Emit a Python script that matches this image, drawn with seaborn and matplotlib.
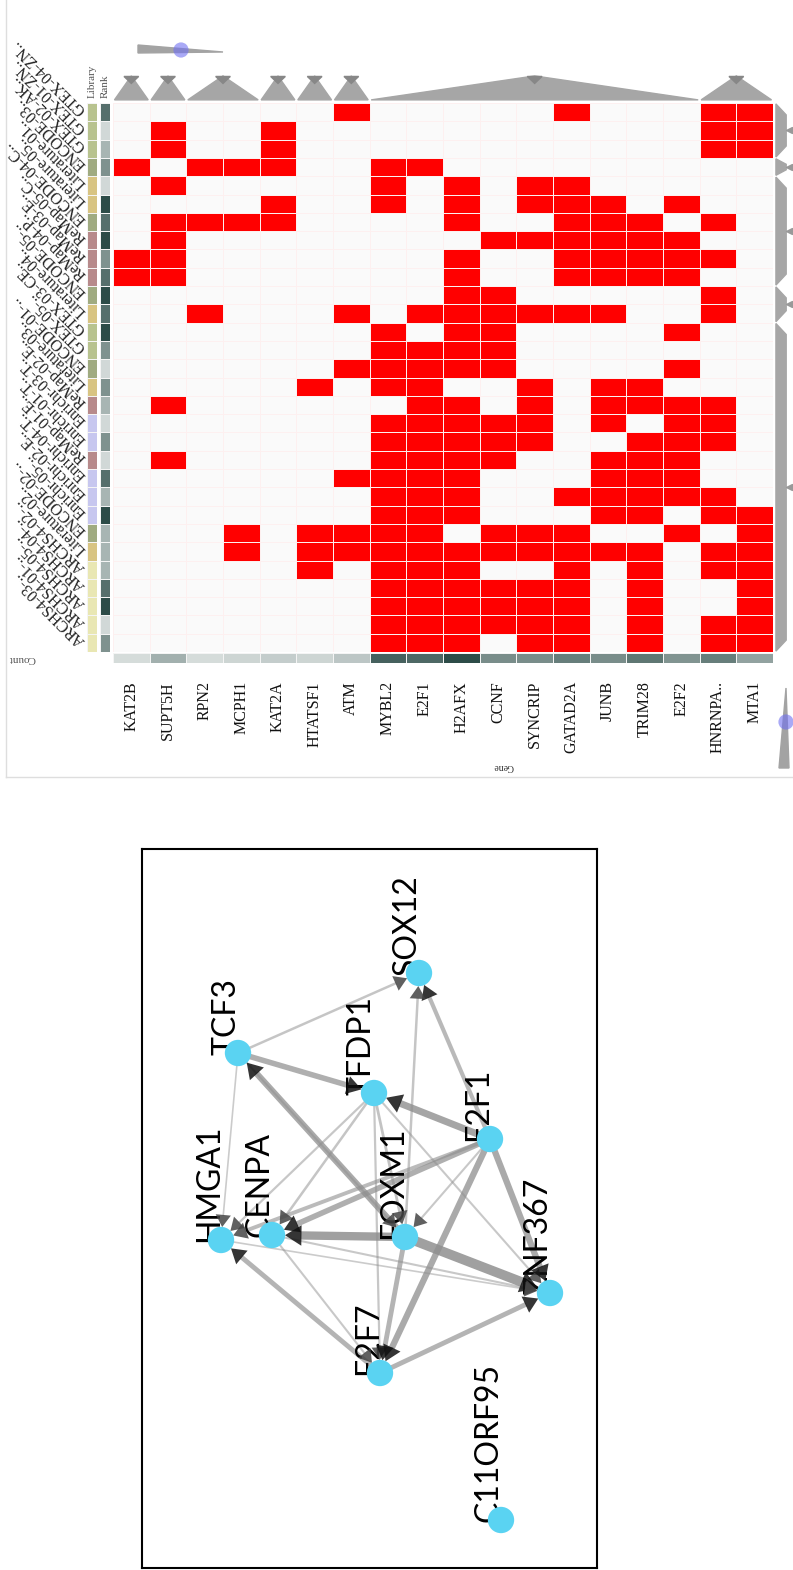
import numpy as np
import pandas as pd
import seaborn as sns
import matplotlib.pyplot as plt
from matplotlib.colors import ListedColormap, LinearSegmentedColormap
from matplotlib.patches import Polygon

W, H = 793, 1570

# ---------------- heatmap data ----------------
genes = ["KAT2B", "SUPT5H", "RPN2", "MCPH1", "KAT2A", "HTATSF1", "ATM", "MYBL2",
         "E2F1", "H2AFX", "CCNF", "SYNCRIP", "GATAD2A", "JUNB", "TRIM28", "E2F2",
         "HNRNPA..", "MTA1"]

libraries = ["GTEX-04-ZN..", "GTEX-01-ZN..", "GTEX-02-AK..", "ENCODE-03..",
             "Literature-01..", "Literature-05..", "ENCODE-04-C..", "ReMap-05-C..",
             "ReMap-03-E..", "ReMap-04-P..", "ENCODE-05-..", "Literature-04..",
             "GTEX-03-CE..", "GTEX-05-..", "ENCODE-01-..", "Literature-03..",
             "ReMap-02-E..", "Enrichr-03-T..", "Enrichr-01-T..", "ReMap-01-E..",
             "Enrichr-04-T..", "Enrichr-02-E..", "Enrichr-05-..", "ENCODE-02-..",
             "Literature-02..", "ARCHS4-02-..", "ARCHS4-04-..", "ARCHS4-05-..",
             "ARCHS4-01-..", "ARCHS4-03-.."]

library_type = ["GTEX", "GTEX", "GTEX", "ENCODE", "Literature", "Literature", "ENCODE",
                "ReMap", "ReMap", "ReMap", "ENCODE", "Literature", "GTEX", "GTEX",
                "ENCODE", "Literature", "ReMap", "Enrichr", "Enrichr", "ReMap",
                "Enrichr", "Enrichr", "Enrichr", "ENCODE", "Literature", "ARCHS4",
                "ARCHS4", "ARCHS4", "ARCHS4", "ARCHS4"]

rank_level = [4, 1, 2, 3, 1, 5, 4, 5, 3, 4, 5, 4, 5, 3, 1, 3, 2, 1, 3, 1,
              4, 2, 5, 2, 2, 2, 4, 5, 1, 3]

# columns (gene index) that are hit in each library row
hit_cols = [
    [6, 12, 16, 17],
    [1, 4, 16, 17],
    [1, 4, 16, 17],
    [0, 2, 3, 4, 7, 8],
    [1, 7, 9, 11, 12],
    [4, 7, 9, 11, 12, 13, 15],
    [1, 2, 3, 4, 9, 12, 13, 14, 16],
    [1, 10, 11, 12, 13, 14, 15],
    [0, 1, 9, 12, 13, 14, 15, 16],
    [0, 1, 9, 12, 13, 14, 15],
    [9, 10, 16],
    [2, 6, 8, 9, 10, 11, 12, 13, 16],
    [7, 9, 10, 15],
    [7, 8, 9, 10],
    [6, 7, 8, 9, 10, 15],
    [5, 7, 8, 11, 13, 14],
    [1, 8, 9, 11, 13, 14, 15, 16],
    [7, 8, 9, 10, 11, 13, 15, 16],
    [7, 8, 9, 10, 11, 14, 15, 16],
    [1, 7, 8, 9, 10, 13, 14, 15],
    [6, 7, 8, 9, 13, 14, 15],
    [7, 8, 9, 12, 13, 14, 15, 16],
    [7, 8, 9, 13, 14, 16, 17],
    [3, 5, 6, 7, 8, 10, 11, 12, 15, 17],
    [3, 5, 6, 7, 8, 9, 10, 11, 12, 13, 14, 16, 17],
    [5, 7, 8, 9, 12, 14, 16, 17],
    [7, 8, 9, 10, 11, 12, 14, 17],
    [7, 8, 9, 10, 11, 12, 14, 17],
    [7, 8, 9, 10, 11, 12, 14, 16, 17],
    [7, 8, 9, 11, 12, 14, 16, 17],
]

col_clusters = [(0, 0), (1, 1), (2, 3), (4, 4), (5, 5), (6, 6), (7, 15), (16, 17)]
row_clusters = [(0, 2), (3, 3), (4, 9), (10, 11), (12, 29)]

library_colors = {"GTEX": "#b8c38f", "ENCODE": "#a0ab81", "Literature": "#d8c482",
                  "ReMap": "#b78a8b", "Enrichr": "#c7c7ef", "ARCHS4": "#e9e7b3"}

# ---------------- network data ----------------
node_names = ["SOX12", "TCF3", "TFDP1", "E2F1", "HMGA1", "CENPA", "FOXM1",
              "ZNF367", "E2F7", "C11ORF95"]
node_x = [277, 96, 232, 348, 79, 130, 263, 408, 238, 359]
node_y = [124, 204, 244, 290, 391, 386, 388, 444, 524, 671]

edges = [
    ("TCF3", "SOX12", 1.8), ("TCF3", "TFDP1", 4.0), ("FOXM1", "TCF3", 4.5),
    ("TCF3", "FOXM1", 1.5), ("TCF3", "HMGA1", 1.2), ("E2F1", "TFDP1", 5.0),
    ("E2F1", "SOX12", 3.0), ("FOXM1", "SOX12", 1.8), ("TFDP1", "CENPA", 1.8),
    ("TFDP1", "HMGA1", 1.6), ("TFDP1", "E2F7", 1.6), ("TFDP1", "ZNF367", 1.5),
    ("TFDP1", "FOXM1", 2.0), ("E2F1", "CENPA", 4.0), ("E2F1", "HMGA1", 2.8),
    ("FOXM1", "CENPA", 6.0), ("FOXM1", "ZNF367", 7.0), ("FOXM1", "E2F7", 3.5),
    ("E2F1", "E2F7", 4.5), ("E2F1", "ZNF367", 4.5), ("E2F1", "FOXM1", 1.5),
    ("CENPA", "ZNF367", 1.5), ("HMGA1", "ZNF367", 1.2), ("CENPA", "E2F7", 1.5),
    ("E2F7", "HMGA1", 3.5), ("E2F7", "ZNF367", 3.5),
]

# ---------------- figure ----------------
fig = plt.figure(figsize=(W / 100, H / 100), dpi=100)


def px_axes(x0, y0, x1, y1):
    return fig.add_axes([x0 / W, 1 - y1 / H, (x1 - x0) / W, (y1 - y0) / H])


serif = "Liberation Serif"
teal = LinearSegmentedColormap.from_list("teal", ["#eef1f0", "#2d4c48"])

# background overlay for panel decorations
ax_bg = px_axes(0, 0, W, H)
ax_bg.set_xlim(0, W)
ax_bg.set_ylim(H, 0)
ax_bg.axis("off")
ax_bg.plot([6, 6], [0, 777], color="#dedede", lw=1)
ax_bg.plot([6, W], [777, 777], color="#dedede", lw=1)
ax_bg.add_patch(Polygon([(138, 45), (138, 53), (223, 52)], color="#a3a3a3"))
ax_bg.scatter([181], [50], s=120, color="#7070f0", alpha=0.6, edgecolors="none", zorder=3)
ax_bg.add_patch(Polygon([(786, 688), (779, 768), (789, 768)], color="#a3a3a3"))
ax_bg.scatter([786], [722], s=120, color="#7070f0", alpha=0.6, edgecolors="none", zorder=3)
ax_bg.text(503, 766, "Gene", rotation=180, ha="center", va="center",
           fontsize=7, family=serif, color="#333333")

# main matrix
mat = np.zeros((len(libraries), len(genes)))
for r, cols in enumerate(hit_cols):
    mat[r, cols] = 1
mat_df = pd.DataFrame(mat, index=libraries, columns=genes)

ax_hm = px_axes(113, 103, 773, 652)
sns.heatmap(mat_df, ax=ax_hm, cmap=ListedColormap(["#fafafa", "#ff0000"]), vmin=0, vmax=1,
            cbar=False, linewidths=0.6, linecolor="#fdf0f0",
            xticklabels=False, yticklabels=False)
ax_hm.set_xlabel("")
ax_hm.set_ylabel("")

# column dendrogram triangles
for a, b in col_clusters:
    c = (a + b + 1) / 2
    ax_hm.add_patch(Polygon([(a + 0.04, -0.17), (c, -1.48), (b + 0.96, -0.17)],
                            color="#a6a6a6", clip_on=False))
    ax_hm.add_patch(Polygon([(c - 0.2, -1.45), (c + 0.2, -1.45), (c, -1.07)],
                            color="#878787", clip_on=False))

# row dendrogram shapes
for a, b in row_clusters:
    top, bot = a + 0.05, b + 0.95
    s = min(0.6, (bot - top) / 3)
    ax_hm.add_patch(Polygon([(18.08, top), (18.36, top + s), (18.36, bot - s), (18.08, bot)],
                            color="#a6a6a6", clip_on=False))
    ax_hm.scatter([18.45], [(a + b + 1) / 2], marker="<", s=18, color="#999999",
                  clip_on=False, zorder=3)

# library and rank strips
type_order = list(library_colors.keys())
lib_codes = pd.DataFrame({"Library": [type_order.index(t) for t in library_type]}, index=libraries)
ax_lib = px_axes(87, 103, 97, 652)
sns.heatmap(lib_codes, ax=ax_lib, cmap=ListedColormap([library_colors[t] for t in type_order]),
            vmin=-0.5, vmax=len(type_order) - 0.5, cbar=False, linewidths=0.4,
            linecolor="#f4f4f4", xticklabels=False, yticklabels=False)
ax_lib.set_ylabel("")
ax_lib.text(0.5, -0.3, "Library", rotation=90, ha="center", va="bottom",
            fontsize=8, family=serif, color="#555555")
for j, name in enumerate(libraries):
    ax_lib.text(-0.35, j + 0.5, name, rotation=135, rotation_mode="anchor",
                ha="left", va="center", fontsize=11.5, family=serif, color="#222222")

rank_df = pd.DataFrame({"Rank": rank_level}, index=libraries)
ax_rank = px_axes(100, 103, 110, 652)
sns.heatmap(rank_df, ax=ax_rank, cmap=teal, vmin=0.3, vmax=5, cbar=False, linewidths=0.4,
            linecolor="#f4f4f4", xticklabels=False, yticklabels=False)
ax_rank.set_ylabel("")
ax_rank.text(0.5, -0.3, "Rank", rotation=90, ha="center", va="bottom",
             fontsize=8, family=serif, color="#555555")

# count row
counts = mat_df.sum(axis=0).to_frame().T
ax_cnt = px_axes(113, 653, 773, 663)
sns.heatmap(counts, ax=ax_cnt, cmap=teal, vmin=0, vmax=counts.values.max(), cbar=False,
            linewidths=0.6, linecolor="#f4f4f4", xticklabels=genes, yticklabels=False)
ax_cnt.tick_params(axis="x", length=0, pad=13)
ax_cnt.set_xticklabels(genes, rotation=90, fontsize=11.5, family=serif, color="#111111")
ax_cnt.set_xlabel("")
ax_cnt.text(-2.48, 0.5, "Count", rotation=180, ha="center", va="center",
            fontsize=8, family=serif, color="#555555")

# ---------------- network ----------------
ax_net = px_axes(142, 849, 597, 1568)
ax_net.set_xlim(0, 455)
ax_net.set_ylim(719, 0)
ax_net.set_xticks([])
ax_net.set_yticks([])
for sp in ax_net.spines.values():
    sp.set_color("black")
    sp.set_linewidth(1.5)

pos = {n: (x, y) for n, x, y in zip(node_names, node_x, node_y)}
r_node = 13
for src, tgt, w in edges:
    x1, y1 = pos[src]
    x2, y2 = pos[tgt]
    d = np.hypot(x2 - x1, y2 - y1)
    ux, uy = (x2 - x1) / d, (y2 - y1) / d
    alpha = min(0.85, 0.35 + 0.09 * w)
    ms = 20 + 1.6 * w
    head = ms * 0.4 / 0.72 + 1
    tip = (x2 - ux * r_node, y2 - uy * r_node)
    base = (tip[0] - ux * head, tip[1] - uy * head)
    ax_net.plot([x1, base[0] + ux * 2], [y1, base[1] + uy * 2], color="#8f8f8f",
                lw=w, alpha=alpha, solid_capstyle="butt", zorder=1)
    shade = "#111111" if w >= 3 else "#444444"
    ax_net.annotate("", xy=tip, xytext=base,
                    arrowprops=dict(arrowstyle="-|>,head_length=0.4,head_width=0.25",
                                    mutation_scale=ms, color=shade, lw=0, alpha=0.85,
                                    shrinkA=0, shrinkB=0),
                    zorder=2.5)

for n in node_names:
    x, y = pos[n]
    ax_net.text(x - 3, y + 2, n, rotation=90, rotation_mode="anchor", ha="left",
                va="baseline", fontsize=23, family="Lato", color="black", zorder=2)

sns.scatterplot(x=node_x, y=node_y, ax=ax_net, s=360, color="#5ad3f2",
                edgecolor="none", legend=False, zorder=3)
ax_net.set_xlim(0, 455)
ax_net.set_ylim(719, 0)

fig.savefig("out.png", dpi=100, facecolor="white")
